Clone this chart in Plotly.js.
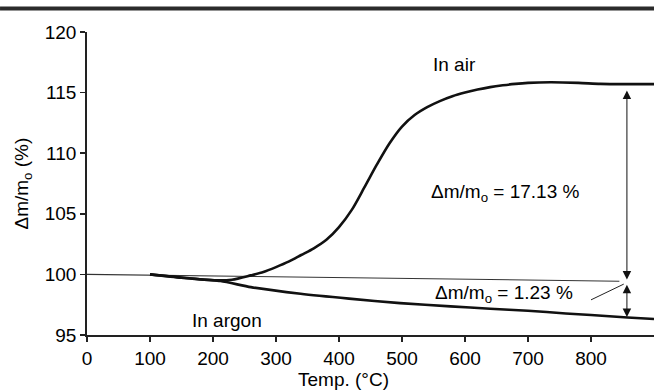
<!DOCTYPE html>
<html>
<head>
<meta charset="utf-8">
<script src="https://cdn.plot.ly/plotly-3.0.1.min.js"></script>
<style>html,body{margin:0;padding:0;background:#fff}#chart{width:654px;height:390px}</style>
</head>
<body>
<div id="chart"></div>
<script>
// Data
const airTemp = [100,150,200,230,260,280,300,320,340,360,380,400,420,440,460,480,500,520,540,560,580,600,620,640,660,680,700,736,780,815,860,900];
const airMass = [100,99.75,99.52,99.56,99.92,100.2,100.6,101.05,101.6,102.15,102.85,103.9,105.3,107.15,109.05,110.8,112.2,113.15,113.8,114.3,114.7,115.0,115.25,115.45,115.6,115.72,115.8,115.85,115.8,115.72,115.7,115.7];
const argonTemp = [100,150,212,260,339,416,497,577,640,700,760,800,858,900];
const argonMass = [100,99.72,99.45,98.95,98.4,98.0,97.63,97.36,97.17,97.0,96.78,96.65,96.45,96.32];
const refTemp = [0,845];
const refMass = [100,99.44];
const xTicks = [0,100,200,300,400,500,600,700,800];
const yTicks = [95,100,105,110,115,120];
const gainAt = 857, gainTop = 115.3, gainBottom = 99.58;
const lossTop = 99.27, lossBottom = 96.48;
const leader = {x0: 800, y0: 97.9, x1: 852, y1: 99.2};

const F = "Liberation Sans, Arial, sans-serif";
const fs = 19;
const ink = '#000';

const traces = [
  {x: refTemp, y: refMass, mode: 'lines', line: {color: '#333', width: 1.1}, hoverinfo: 'skip'},
  {x: airTemp, y: airMass, mode: 'lines', line: {color: '#111', width: 2.6, shape: 'spline', smoothing: 0.8}, name: 'In air'},
  {x: argonTemp, y: argonMass, mode: 'lines', line: {color: '#111', width: 2.6, shape: 'spline', smoothing: 0.6}, name: 'In argon'}
];

const layout = {
  width: 654, height: 390,
  margin: {l: 87, r: 0, t: 32, b: 55, pad: 0},
  paper_bgcolor: '#fff', plot_bgcolor: '#fff',
  showlegend: false,
  font: {family: F, size: fs, color: ink},
  xaxis: {
    range: [0, 900], tickvals: xTicks, ticktext: xTicks.map(String),
    showgrid: false, zeroline: false, showline: true, linecolor: '#222', linewidth: 1.8,
    ticks: 'outside', ticklen: 5, tickwidth: 1.5, tickcolor: '#222',
    tickfont: {family: F, size: fs, color: ink}
  },
  yaxis: {
    range: [95, 120], tickvals: yTicks, ticktext: yTicks.map(String),
    showgrid: false, zeroline: false, showline: true, linecolor: '#222', linewidth: 1.8,
    ticks: 'outside', ticklen: 5, tickwidth: 1.5, tickcolor: '#222',
    tickfont: {family: F, size: fs, color: ink}
  },
  shapes: [
    {type: 'line', xref: 'paper', yref: 'paper', x0: -0.1534, x1: 1, y0: 1.0776, y1: 1.0776,
     line: {color: '#2b2b2b', width: 4}},
    {type: 'line', xref: 'x', yref: 'y', x0: leader.x0, y0: leader.y0, x1: leader.x1, y1: leader.y1,
     line: {color: '#222', width: 1}}
  ],
  annotations: [
    {x: gainAt, y: gainBottom, ax: gainAt, ay: gainTop, xref: 'x', yref: 'y', axref: 'x', ayref: 'y',
     showarrow: true, arrowside: 'end+start', arrowhead: 2, arrowsize: 1.7, arrowwidth: 1, arrowcolor: '#111', text: ''},
    {x: gainAt, y: lossBottom, ax: gainAt, ay: lossTop, xref: 'x', yref: 'y', axref: 'x', ayref: 'y',
     showarrow: true, arrowside: 'end+start', arrowhead: 2, arrowsize: 1.7, arrowwidth: 1, arrowcolor: '#111', text: ''},
    {x: 583, y: 117.3, xref: 'x', yref: 'y', xanchor: 'center', text: 'In air', showarrow: false, font: {family: F, size: fs, color: ink}},
    {x: 664, y: 106.7, xref: 'x', yref: 'y', xanchor: 'center', text: 'Δm/m<sub>o</sub> = 17.13 %', showarrow: false, font: {family: F, size: fs, color: ink}},
    {x: 662, y: 98.4, xref: 'x', yref: 'y', xanchor: 'center', text: 'Δm/m<sub>o</sub> = 1.23 %', showarrow: false, font: {family: F, size: fs, color: ink}},
    {x: 222, y: 96.2, xref: 'x', yref: 'y', xanchor: 'center', text: 'In argon', showarrow: false, font: {family: F, size: fs, color: ink}},
    {x: 407, y: -0.1485, xref: 'x', yref: 'paper', xanchor: 'center', yanchor: 'middle', text: 'Temp. (°C)', showarrow: false, font: {family: F, size: fs, color: ink}},
    {x: -0.1146, y: 0.5, xref: 'paper', yref: 'paper', xanchor: 'center', yanchor: 'middle', textangle: -90, text: 'Δm/m<sub>o</sub> (%)', showarrow: false, font: {family: F, size: fs, color: ink}}
  ]
};

Plotly.newPlot('chart', traces, layout, {displayModeBar: false, staticPlot: true});
</script>
</body>
</html>
